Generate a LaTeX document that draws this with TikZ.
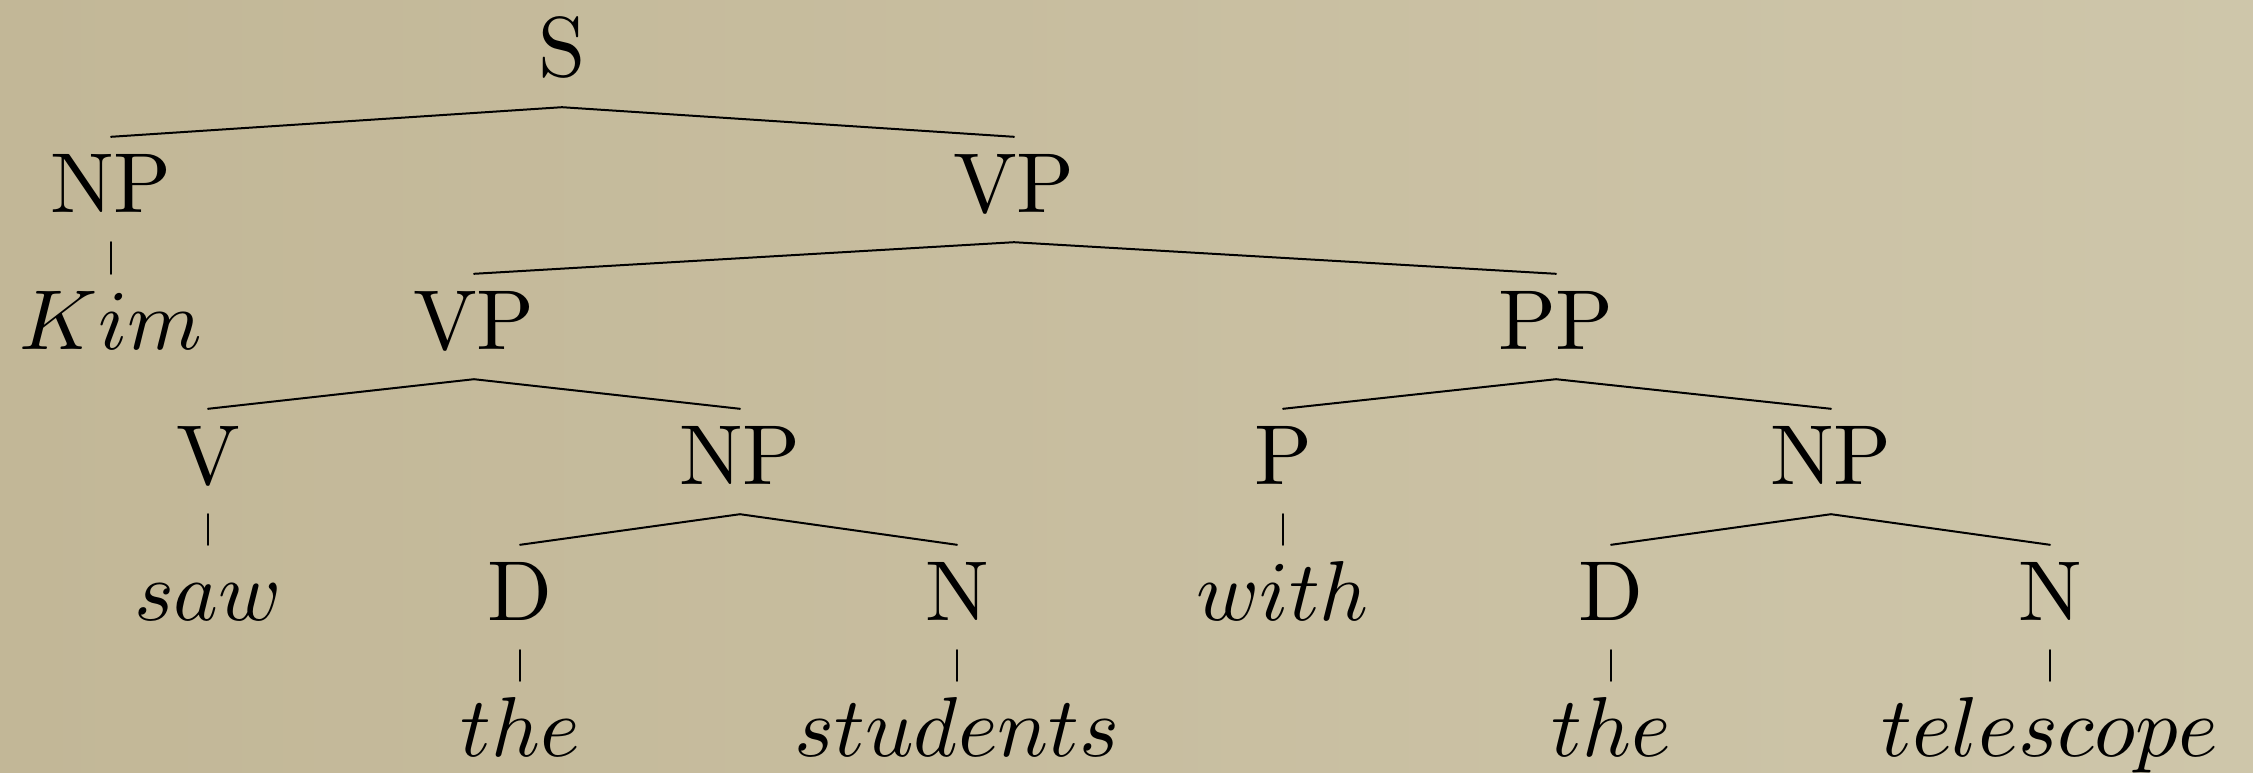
\documentclass[tikz,border=0pt]{standalone}
\font\treeRm=cmr10 at 85pt
\font\treeMi=cmmi10 at 85pt
\newcommand\treeWord[1]{$\textfont1=\treeMi #1$}
\definecolor{bgmid}{RGB}{200,190,160}
\definecolor{bgdark}{RGB}{194,183,151}
\definecolor{bglight}{RGB}{206,198,170}
\begin{document}
\begin{tikzpicture}[x=1pt,y=-1pt,
  tn/.style={font=\treeRm, anchor=base, inner sep=0pt,
             text height=75pt, text depth=30pt},
  br/.style={line width=2pt, line cap=round}]
\shade[left color=bgdark, right color=bglight, middle color=bgmid] (0,0) rectangle (2253,773);
\useasboundingbox (0,0) rectangle (2253,773);
% level 0
\node[tn] (S) at (562,77) {S};
% level 1
\node[tn] (NP1) at (111,212) {NP};
\node[tn] (VP1) at (1014,212) {VP};
% level 2
\node[tn] (Kim) at (111,349) {\treeWord{Kim}};
\node[tn] (VP2) at (474,349) {VP};
\node[tn] (PP) at (1556,349) {PP};
% level 3
\node[tn] (V) at (208,484) {V};
\node[tn] (NP2) at (740,484) {NP};
\node[tn] (P) at (1283,484) {P};
\node[tn] (NP3) at (1831,484) {NP};
% level 4
\node[tn] (saw) at (208,620) {\treeWord{saw}};
\node[tn] (D1) at (520,620) {D};
\node[tn] (N1) at (957,620) {N};
\node[tn] (with) at (1283,620) {\treeWord{with}};
\node[tn] (D2) at (1611,620) {D};
\node[tn] (N2) at (2050,620) {N};
% level 5
\node[tn] (the1) at (520,756) {\treeWord{the}};
\node[tn] (stud) at (957,756) {\treeWord{students}};
\node[tn] (the2) at (1611,756) {\treeWord{the}};
\node[tn] (tel) at (2050,756) {\treeWord{telescope}};
% connectors
\draw[br] (NP1.north) -- (S.south) -- (VP1.north);
\draw[br] (NP1.south) -- (Kim.north);
\draw[br] (VP2.north) -- (VP1.south) -- (PP.north);
\draw[br] (V.north) -- (VP2.south) -- (NP2.north);
\draw[br] (P.north) -- (PP.south) -- (NP3.north);
\draw[br] (V.south) -- (saw.north);
\draw[br] (P.south) -- (with.north);
\draw[br] (D1.north) -- (NP2.south) -- (N1.north);
\draw[br] (D2.north) -- (NP3.south) -- (N2.north);
\draw[br] (D1.south) -- (the1.north);
\draw[br] (N1.south) -- (stud.north);
\draw[br] (D2.south) -- (the2.north);
\draw[br] (N2.south) -- (tel.north);
\end{tikzpicture}
\end{document}
